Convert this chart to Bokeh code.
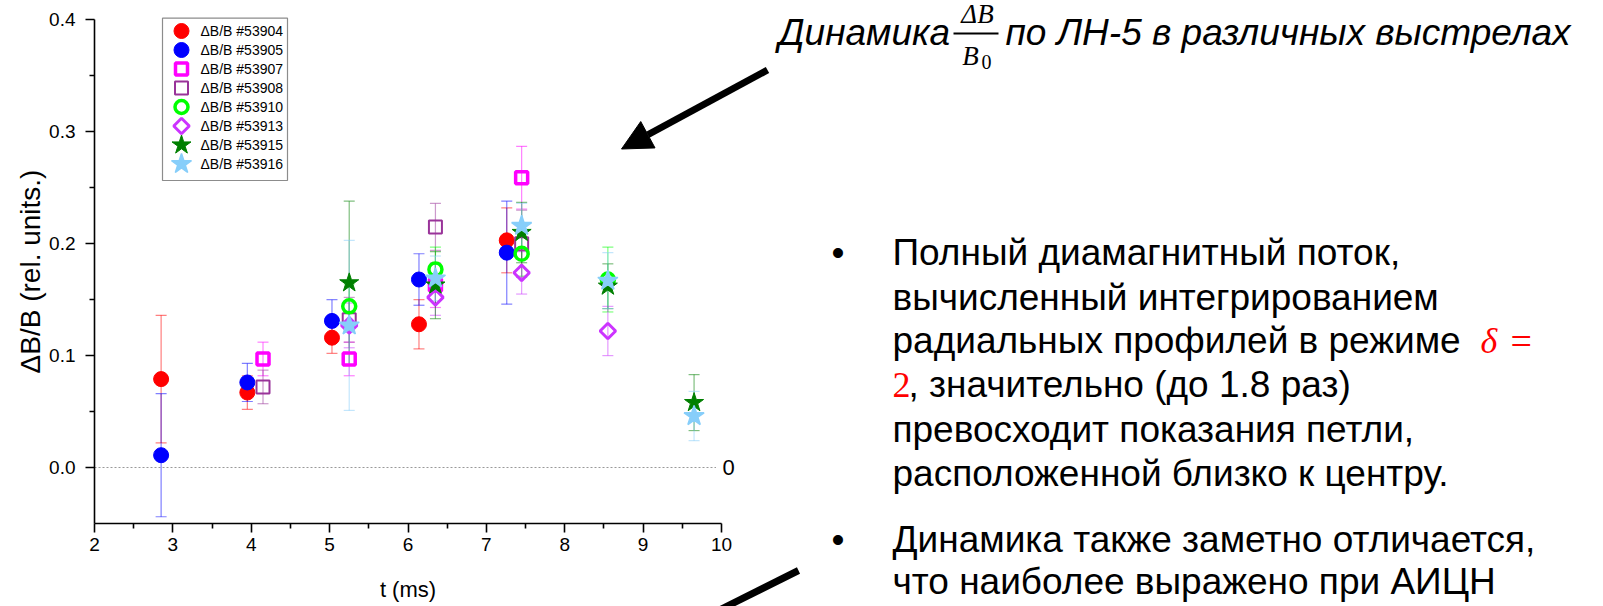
import numpy as np
from bokeh.plotting import figure
from bokeh.models import (Range1d, FixedTicker, ColumnDataSource, Whisker, TeeHead,
                          Label, Arrow, NormalHead, CustomJSTickFormatter)
from bokeh.embed import file_html
from bokeh.resources import INLINE
from bokeh.core.properties import value

# ---------------- data ----------------
x_label = "t (ms)"
y_label = "ΔB/B (rel. units.)"
x_ticks = [2, 3, 4, 5, 6, 7, 8, 9, 10]
y_ticks = [0.0, 0.1, 0.2, 0.3, 0.4]

names = ["ΔB/B #53904", "ΔB/B #53905", "ΔB/B #53907", "ΔB/B #53908",
         "ΔB/B #53910", "ΔB/B #53913", "ΔB/B #53915", "ΔB/B #53916"]

t_53904 = [2.85, 3.95, 5.03, 6.14, 7.26]
v_53904 = [0.079, 0.067, 0.116, 0.128, 0.203]
e_53904 = [0.057, 0.015, 0.014, 0.022, 0.029]

t_53905 = [2.85, 3.95, 5.03, 6.14, 7.26]
v_53905 = [0.011, 0.076, 0.131, 0.168, 0.192]
e_53905 = [0.055, 0.017, 0.019, 0.023, 0.046]

t_53907 = [4.15, 5.25, 6.35, 7.45]
v_53907 = [0.097, 0.097, 0.163, 0.259]
e_53907 = [0.015, 0.015, 0.020, 0.028]

t_53908 = [4.15, 5.25, 6.35, 7.45]
v_53908 = [0.072, 0.132, 0.215, 0.200]
e_53908 = [0.015, 0.020, 0.021, 0.030]

t_53910 = [5.25, 6.35, 7.45, 8.55]
v_53910 = [0.144, 0.177, 0.191, 0.168]
e_53910 = [0.020, 0.020, 0.020, 0.029]

t_53913 = [5.25, 6.35, 7.45, 8.55]
v_53913 = [0.127, 0.152, 0.174, 0.122]
e_53913 = [0.020, 0.016, 0.019, 0.022]

t_53915 = [5.25, 6.35, 7.45, 8.55, 9.65]
v_53915 = [0.165, 0.163, 0.210, 0.162, 0.058]
e_53915 = [0.073, 0.030, 0.027, 0.020, 0.025]

t_53916 = [5.25, 6.35, 7.45, 8.55, 9.65]
v_53916 = [0.127, 0.169, 0.216, 0.167, 0.046]
e_53916 = [0.076, 0.020, 0.020, 0.025, 0.022]

series_t = [t_53904, t_53905, t_53907, t_53908, t_53910, t_53913, t_53915, t_53916]
series_v = [v_53904, v_53905, v_53907, v_53908, v_53910, v_53913, v_53915, v_53916]
series_e = [e_53904, e_53905, e_53907, e_53908, e_53910, e_53913, e_53915, e_53916]

# ---------------- styles ----------------
styles = [
    dict(marker="circle", size=15, fill_color="#FF0000", line_color="#FF0000", line_width=1, angle=0),
    dict(marker="circle", size=15, fill_color="#0000FF", line_color="#0000FF", line_width=1, angle=0),
    dict(marker="square", size=12, fill_color=None, line_color="#FF00FF", line_width=3.5, angle=0),
    dict(marker="square", size=13, fill_color=None, line_color="#993399", line_width=2, angle=0),
    dict(marker="circle", size=13, fill_color=None, line_color="#00FF00", line_width=3.5, angle=0),
    dict(marker="square", size=11, fill_color=None, line_color="#CC33FF", line_width=3, angle=np.pi / 4),
    dict(marker="star", size=20, fill_color="#007F00", line_color="#007F00", line_width=1, angle=0),
    dict(marker="star", size=21, fill_color="#87CEFA", line_color="#87CEFA", line_width=1.5, angle=0),
]

# ---------------- geometry (canvas pixels -> data) ----------------
W, H = 1603, 606
PX_X2, PX_X10 = 94.0, 721.0
PX_Y0, PX_Y04 = 467.0, 19.4

def dx(X):
    return 2 + (X - PX_X2) * 8.0 / (PX_X10 - PX_X2)

def dy(Y):
    return (PX_Y0 - Y) * 0.4 / (PX_Y0 - PX_Y04)

p = figure(width=W, height=H, output_backend="svg", toolbar_location=None,
           x_range=Range1d(dx(0), dx(W)), y_range=Range1d(dy(H), dy(0)),
           min_border=0, min_border_left=0, min_border_right=0,
           min_border_top=0, min_border_bottom=0)
p.outline_line_color = None
p.grid.visible = False
p.background_fill_color = "white"
p.border_fill_color = "white"

AX_FONT = "Liberation Sans"
for ax in (p.xaxis[0], p.yaxis[0]):
    ax.axis_line_color = "black"
    ax.axis_line_width = 1.6
    ax.major_tick_line_color = "black"
    ax.major_tick_line_width = 1.6
    ax.minor_tick_line_color = "black"
    ax.minor_tick_line_width = 1.6
    ax.major_tick_in = 0
    ax.major_tick_out = 9
    ax.minor_tick_in = 0
    ax.minor_tick_out = 5
    ax.major_label_text_font = AX_FONT
    ax.major_label_text_font_size = "19px"
    ax.major_label_text_color = "black"
    ax.axis_label_text_font = AX_FONT
    ax.axis_label_text_font_style = "normal"
    ax.axis_label_text_color = "black"

xa = p.xaxis[0]
xa.fixed_location = -0.05
xa.bounds = (2, 10)
xa.ticker = FixedTicker(ticks=x_ticks, minor_ticks=[v + 0.5 for v in x_ticks[:-1]])
xa.major_label_standoff = 6
xa.axis_label = x_label
xa.axis_label_text_font_size = "22px"
xa.axis_label_standoff = 22

ya = p.yaxis[0]
ya.fixed_location = 2
ya.bounds = (-0.05, 0.4)
ya.ticker = FixedTicker(ticks=y_ticks, minor_ticks=[v + 0.05 for v in y_ticks[:-1]])
ya.major_label_standoff = 10
ya.formatter = CustomJSTickFormatter(code="return tick.toFixed(1);")
ya.axis_label = y_label
ya.axis_label_text_font_size = "28px"
ya.axis_label_standoff = 0

# zero reference line
p.line(x=[2, 9.93], y=[0, 0], line_color="#999999", line_width=1, line_dash="2 2")
p.add_layout(Label(x=dx(722), y=0, text="0", text_font=AX_FONT, text_font_size="22px",
                   text_baseline="middle", text_align="left", text_color="black"))

# error bars + markers
for t, v, e, st in zip(series_t, series_v, series_e, styles):
    src = ColumnDataSource(dict(x=t, y=v, lo=[a - b for a, b in zip(v, e)],
                                hi=[a + b for a, b in zip(v, e)]))
    col = st["line_color"]
    w = Whisker(source=src, base="x", lower="lo", upper="hi", level="underlay",
                line_color=col, line_alpha=0.5, line_width=1.2,
                lower_head=TeeHead(size=11, line_color=col, line_alpha=0.5, line_width=1.2),
                upper_head=TeeHead(size=11, line_color=col, line_alpha=0.5, line_width=1.2))
    p.add_layout(w)
for t, v, st in zip(series_t, series_v, styles):
    src = ColumnDataSource(dict(x=t, y=v))
    p.scatter(x="x", y="y", source=src, marker=st["marker"], size=st["size"],
              fill_color=st["fill_color"], line_color=st["line_color"],
              line_width=st["line_width"], angle=st["angle"])

# legend (drawn box with the same marker styles)
LG_L, LG_R, LG_T, LG_B = 162, 287, 17.7, 180
p.quad(left=[dx(LG_L)], right=[dx(LG_R)], top=[dy(LG_T)], bottom=[dy(LG_B)],
       fill_color="white", line_color="#8c8c8c", line_width=1.2)
for i, (st, nm) in enumerate(zip(styles, names)):
    yy = dy(30.5 + 19 * i)
    p.scatter(x=[dx(181)], y=[yy], marker=st["marker"], size=st["size"],
              fill_color=st["fill_color"], line_color=st["line_color"],
              line_width=st["line_width"], angle=st["angle"])
    p.text(x=[dx(200)], y=[yy], text=[nm], text_font=value(AX_FONT),
           text_font_size="14px", text_baseline="middle", text_align="left",
           text_color="black")

# ---------------- slide texts ----------------
SANS = "Liberation Sans"
SERIF = "Liberation Serif"

def lab(X, Y, text, size, font=SANS, style="normal", color="black", align="left"):
    p.add_layout(Label(x=dx(X), y=dy(Y), text=text, text_font=font,
                       text_font_size=f"{size}px", text_font_style=style,
                       text_color=color, text_baseline="middle", text_align=align))

# title with fraction
lab(778, 32, "Динамика", 37, style="italic")
lab(977, 13, "ΔB", 27, font=SERIF, style="italic", align="center")
p.segment(x0=[dx(953)], x1=[dx(998)], y0=[dy(33)], y1=[dy(33)], line_color="black", line_width=2)
lab(970, 55, "B", 27, font=SERIF, style="italic", align="center")
lab(986, 61, "0", 20, font=SERIF, align="center")
lab(1005, 32, "по ЛН-5 в различных выстрелах", 37, style="italic")

# bullets
BX, TX = 831, 892
line_y = [251.5, 296.5, 340.4, 384.4, 429.4, 473.3, 538.7, 580.7]
FS = 37
lab(BX, line_y[0], "•", FS)
lab(TX, line_y[0], "Полный диамагнитный поток,", FS)
lab(TX, line_y[1], "вычисленный интегрированием", FS)
lab(TX, line_y[2], "радиальных профилей в режиме", FS)
lab(1480, line_y[2], "δ", 36, font=SERIF, style="italic", color="#FF0000")
lab(1510, line_y[2], "=", 38, font=SERIF, color="#FF0000")
lab(TX, line_y[3], "2", 36, font=SERIF, color="#FF0000")
lab(908, line_y[3], ", значительно (до 1.8 раз)", FS)
lab(TX, line_y[4], "превосходит показания петли,", FS)
lab(TX, line_y[5], "расположенной близко к центру.", FS)
lab(BX, line_y[6], "•", FS)
lab(TX, line_y[6], "Динамика также заметно отличается,", FS)
lab(TX, line_y[7], "что наиболее выражено при АИЦН", FS)

# arrows
p.add_layout(Arrow(end=NormalHead(size=30, fill_color="black", line_color="black", line_width=1),
                   x_start=dx(767), y_start=dy(69.5), x_end=dx(621), y_end=dy(148.5),
                   line_color="black", line_width=7))
p.add_layout(Arrow(end=None, x_start=dx(798), y_start=dy(570), x_end=dx(698), y_end=dy(620),
                   line_color="black", line_width=7))

open("out.html", "w").write(file_html(p, INLINE))
